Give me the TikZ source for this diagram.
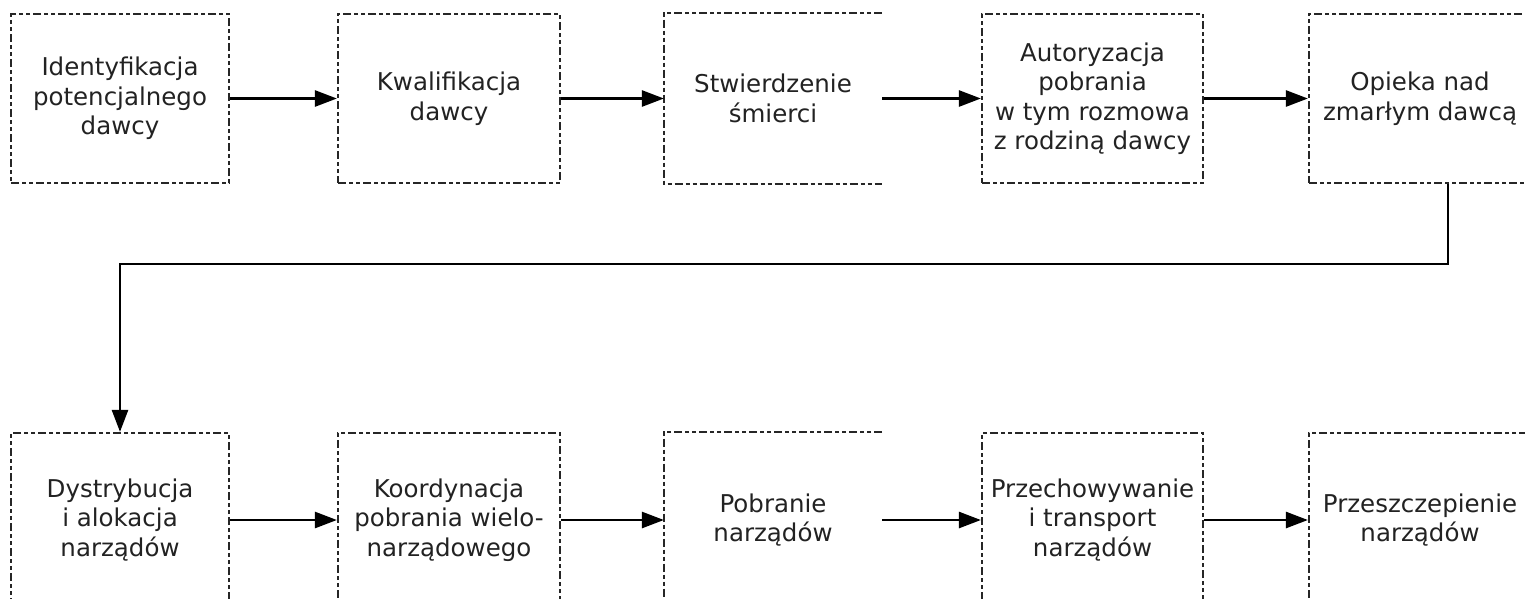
\documentclass[tikz,border=0pt]{standalone}
\usepackage{fontspec}
\setmainfont{DejaVu Sans}
\usetikzlibrary{arrows.meta}
\definecolor{txt}{HTML}{222222}
\tikzset{
  x=1pt, y=1pt,
  boxdash/.style={line width=2.2pt, dash pattern=on 8pt off 3pt on 4pt off 3pt on 4pt off 3pt, black!85},
  stepbox/.style={boxdash, draw, minimum width=218pt, inner sep=0pt, text=txt, align=center,
    font=\fontsize{24.5}{29.5}\selectfont},
  openbox/.style={stepbox, draw=none},
  flow/.style={line width=2.6pt, -{Triangle[length=22pt,width=16pt]}},
}
\begin{document}
\begin{tikzpicture}
\useasboundingbox (0,0) rectangle (1525,-598);
\clip (0,0) rectangle (1525,-598);
% top row: top 14, bottom 183
\node[stepbox, minimum height=169pt] (b1) at (120,-98.5) {Identyfikacja\\potencjalnego\\dawcy};
\node[stepbox, minimum height=169pt, minimum width=222pt] (b2) at (449,-98.5) {Kwalifikacja\\dawcy};
\node[openbox, minimum height=169pt, minimum width=216pt] (b3) at (773,-98.5) {Stwierdzenie\\śmierci};
\node[stepbox, minimum height=169pt, minimum width=221pt] (b4) at (1092.5,-98.5) {Autoryzacja\\pobrania\\w tym rozmowa\\z rodziną dawcy};
\node[stepbox, minimum height=169pt, minimum width=222pt] (b5) at (1420,-98.5) {Opieka nad\\zmarłym dawcą};
\draw[boxdash] (b3.north east) -- (b3.north west) -- (b3.south west) -- (b3.south east);
% bottom row: top 433
\node[stepbox, minimum height=174pt] (b6) at (120,-520) {Dystrybucja\\i alokacja\\narządów};
\node[stepbox, minimum height=174pt, minimum width=222pt] (b7) at (449,-520) {Koordynacja\\pobrania wielo-\\narządowego};
\node[openbox, minimum height=174pt, minimum width=216pt] (b8) at (773,-520) {Pobranie\\narządów};
\node[stepbox, minimum height=174pt, minimum width=221pt] (b9) at (1092.5,-520) {Przechowywanie\\i transport\\narządów};
\node[stepbox, minimum height=174pt, minimum width=222pt] (b10) at (1420,-520) {Przeszczepienie\\narządów};
\draw[boxdash] (b8.north east) -- (b8.north west) -- (b8.south west) -- (b8.south east);
% arrows
\draw[flow] (b1.east) -- (b2.west);
\draw[flow] (b2.east) -- (b3.west);
\draw[flow] (b3.east) -- (b4.west);
\draw[flow] (b4.east) -- (b5.west);
\draw[flow] ([xshift=28pt]b5.south) -- ++(0,-80) -| (b6.north);
\draw[flow] (b6.east) -- (b7.west);
\draw[flow] (b7.east) -- (b8.west);
\draw[flow] (b8.east) -- (b9.west);
\draw[flow] (b9.east) -- (b10.west);
\end{tikzpicture}
\end{document}
